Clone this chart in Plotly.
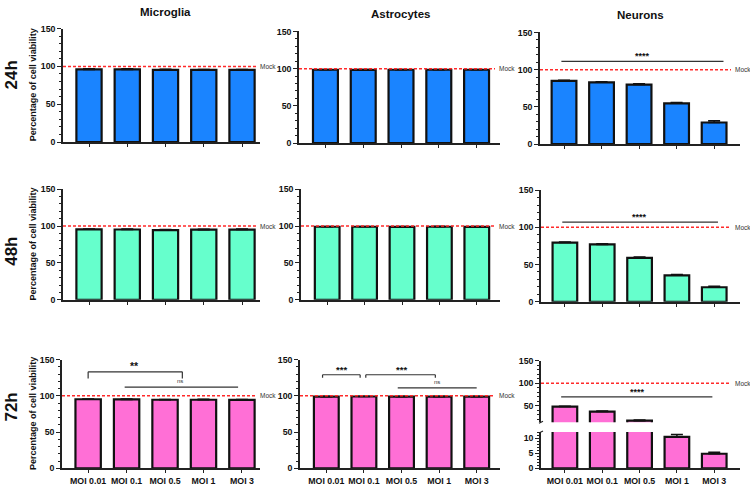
import plotly.graph_objects as go

W, H = 750, 486
cats = ["MOI 0.01", "MOI 0.1", "MOI 0.5", "MOI 1", "MOI 3"]
cols = ["Microglia", "Astrocytes", "Neurons"]
rows = ["24h", "48h", "72h"]
row_colors = ["#1a84ff", "#66ffcc", "#ff6fd6"]

# values [row][col]
micro_24 = [96.0, 96.0, 95.5, 95.5, 95.3]
astro_24 = [98.5, 98.3, 98.5, 98.5, 98.5]
neuro_24 = [84.8, 83.0, 80.0, 54.8, 29.0]
micro_48 = [95.5, 95.3, 94.5, 95.0, 95.2]
astro_48 = [99.0, 99.0, 98.8, 99.0, 98.8]
neuro_48 = [79.5, 77.0, 59.0, 35.5, 19.5]
micro_72 = [95.2, 95.0, 94.5, 94.5, 94.3]
astro_72 = [98.8, 99.0, 98.8, 98.8, 98.8]
neuro_72 = [48.5, 37.5, 17.5, 10.4, 4.8]

err_micro_24 = [0.8, 0.8, 0.6, 0.5, 0.5]
err_astro_24 = [0.5, 0.5, 0.5, 0.5, 0.5]
err_neuro_24 = [1.0, 0.8, 1.0, 1.2, 2.5]
err_micro_48 = [0.6, 0.8, 0.8, 0.6, 0.6]
err_astro_48 = [0.5, 0.5, 0.5, 0.6, 0.5]
err_neuro_48 = [0.8, 0.8, 1.2, 1.0, 1.2]
err_micro_72 = [0.5, 0.5, 0.5, 0.6, 0.5]
err_astro_72 = [0.5, 0.5, 0.5, 0.5, 0.5]
err_neuro_72 = [1.0, 1.0, 1.2, 0.8, 0.5]

values = [[micro_24, astro_24, neuro_24],
          [micro_48, astro_48, neuro_48],
          [micro_72, astro_72, neuro_72]]
errors = [[err_micro_24, err_astro_24, err_neuro_24],
          [err_micro_48, err_astro_48, err_neuro_48],
          [err_micro_72, err_astro_72, err_neuro_72]]

# panel pixel boxes (x0, x1, ytop, ybottom)
boxes = [[(63, 260, 24, 140), (299, 500, 27, 141), (540, 740, 28, 142)],
         [(63, 260, 188, 301), (301, 500, 188, 301), (541, 740, 189, 303)],
         [(62, 260, 362, 473), (300, 500, 362, 473), (541, 740, 363, 426)]]
xranges = [[-0.68, 4.47], [-0.70, 4.62], [-0.64, 4.69]]
mock_line_end = [257, 495, 731]
mock_text_x = [258, 497, 733]
lower_box = (541, 740, 436, 473)
upper_range = [14, 150]
lower_range = [0, 12]

FONT = "Liberation Sans, Arial, sans-serif"

def dom_x(a, b):
    return [a / W, b / W]

def dom_y(top, bot):
    return [1 - bot / H, 1 - top / H]

fig = go.Figure()
layout = {}
shapes = []
annotations = []

axis_common = dict(showline=True, linecolor="#222", linewidth=1.5, ticks="outside",
                   tickcolor="#222", tickwidth=1.2, showgrid=False, zeroline=False,
                   tickfont=dict(family=FONT, size=8.8, color="#111", weight="bold"))

n = 0
for r in range(3):
    for c in range(3):
        n += 1
        x0, x1, yt, yb = boxes[r][c]
        xa = "x" if n == 1 else f"x{n}"
        ya = "y" if n == 1 else f"y{n}"
        broken = (r == 2 and c == 2)
        vals = values[r][c]
        errs = errors[r][c]
        if broken:
            # upper segment of broken axis shows only bars reaching into its range
            vals = [v if v > upper_range[0] else None for v in vals]
        fig.add_trace(go.Bar(x=list(range(5)), y=vals, xaxis=xa, yaxis=ya, width=0.66,
                             marker=dict(color=row_colors[r], line=dict(color="#111", width=2.2)),
                             error_y=dict(type="data", array=errs, arrayminus=[0] * 5, symmetric=False,
                                          color="#111", thickness=1.5, width=6),
                             showlegend=False, hoverinfo="skip"))
        layout["xaxis" if n == 1 else f"xaxis{n}"] = dict(
            axis_common, domain=dom_x(x0, x1), anchor=ya, range=xranges[c],
            tickvals=list(range(5)),
            ticktext=cats if (r == 2 and not broken) else [""] * 5,
            ticklen=3, showticklabels=(r == 2 and not broken),
            showline=not broken, ticks="" if broken else "outside")
        if broken:
            layout[f"yaxis{n}"] = dict(axis_common, domain=dom_y(yt, yb), anchor=xa,
                                       range=upper_range, tickvals=[50, 100, 150], ticklen=4,
                                       minor=dict(ticks="outside", dtick=10, ticklen=2, tickcolor="#222"))
        else:
            layout["yaxis" if n == 1 else f"yaxis{n}"] = dict(
                axis_common, domain=dom_y(yt, yb), anchor=xa, range=[0, 150],
                tickvals=[0, 50, 100, 150], ticklen=4,
                minor=dict(ticks="outside", dtick=10, ticklen=2, tickcolor="#222"))
        # Mock line
        shapes.append(dict(type="line", xref="paper", yref=ya, x0=x0 / W, x1=mock_line_end[c] / W,
                           y0=100, y1=100,
                           line=dict(color="#ff2a2a", width=1.5, dash="3px,2px")))
        annotations.append(dict(x=mock_text_x[c] / W, y=100, xref="paper", yref=ya, text="Mock",
                                showarrow=False, xanchor="left", yanchor="middle",
                                font=dict(family=FONT, size=6.5, color="#333")))

# lower part of broken axis panel (n=10)
lx0, lx1, lyt, lyb = lower_box
fig.add_trace(go.Bar(x=list(range(5)), y=neuro_72, xaxis="x10", yaxis="y10", width=0.66,
                     marker=dict(color=row_colors[2], line=dict(color="#111", width=2.2)),
                     error_y=dict(type="data", array=err_neuro_72, arrayminus=[0] * 5, symmetric=False,
                                  color="#111", thickness=1.5, width=6),
                     showlegend=False, hoverinfo="skip"))
layout["xaxis10"] = dict(axis_common, domain=dom_x(lx0, lx1), anchor="y10", range=xranges[2],
                         tickvals=list(range(5)), ticktext=cats, ticklen=3)
layout["yaxis10"] = dict(axis_common, domain=dom_y(lyt, lyb), anchor="x10", range=lower_range,
                         tickvals=[0, 5, 10], ticklen=4,
                         minor=dict(ticks="outside", dtick=1, ticklen=2, tickcolor="#222"))

# significance marks
def hline(xa, ya, xs, xe, y, legs=None):
    shapes.append(dict(type="line", xref=xa, yref=ya, x0=xs, x1=xe, y0=y, y1=y,
                       line=dict(color="#333", width=1.2)))
    if legs is not None:
        for xx in (xs, xe):
            shapes.append(dict(type="line", xref=xa, yref=ya, x0=xx, x1=xx, y0=y, y1=legs,
                               line=dict(color="#333", width=1.2)))

def label(xa, ya, x, y, t, size=9):
    annotations.append(dict(x=x, y=y, xref=xa, yref=ya, text=t, showarrow=False,
                            xanchor="center", yanchor="bottom",
                            font=dict(family=FONT, size=size, color="#111", weight="bold")))

# Neurons 24h
hline("x3", "y3", -0.07, 4.25, 111)
label("x3", "y3", 2.1, 109, "****")
# Neurons 48h
hline("x6", "y6", -0.07, 4.1, 107)
label("x6", "y6", 2.0, 105, "****")
# Neurons 72h (upper axis)
hline("x9", "y9", -0.1, 3.95, 70)
label("x9", "y9", 1.95, 66, "****")
# Microglia 72h
hline("x7", "y7", 0.0, 2.45, 133, legs=124)
label("x7", "y7", 1.2, 130, "**", size=10.5)
hline("x7", "y7", 0.95, 3.9, 112)
annotations.append(dict(x=2.4, y=113, xref="x7", yref="y7", text="ns", showarrow=False,
                        xanchor="center", yanchor="bottom", font=dict(family=FONT, size=6, color="#333")))
# Astrocytes 72h
hline("x8", "y8", -0.1, 0.9, 129, legs=125)
label("x8", "y8", 0.4, 126, "***", size=9.5)
hline("x8", "y8", 1.05, 2.9, 129, legs=125)
label("x8", "y8", 2.0, 126, "***", size=9.5)
hline("x8", "y8", 1.9, 4.0, 111)
annotations.append(dict(x=2.95, y=112, xref="x8", yref="y8", text="ns", showarrow=False,
                        xanchor="center", yanchor="bottom", font=dict(family=FONT, size=6, color="#333")))

# column titles
for cx, cy, t in [(165, 7, "Microglia"), (400, 9, "Astrocytes"), (640, 10, "Neurons")]:
    annotations.append(dict(x=cx / W, y=1 - cy / H, xref="paper", yref="paper", text=t,
                            xanchor="center", yanchor="middle",
                            showarrow=False, font=dict(family=FONT, size=11.5, color="#111", weight="bold")))
# row labels
for ry, t in [(72, "24h"), (252, "48h"), (411, "72h")]:
    annotations.append(dict(x=12 / W, y=1 - ry / H, xref="paper", yref="paper", text=t,
                            textangle=-90, showarrow=False, xanchor="center", yanchor="middle",
                            font=dict(family=FONT, size=17, color="#111", weight="bold")))
# y axis titles
for (yt, yb) in [(24, 140), (188, 301), (362, 473)]:
    annotations.append(dict(x=33 / W, y=1 - (yt + yb) / 2 / H, xref="paper", yref="paper",
                            text="Percentage of cell viability", textangle=-90, showarrow=False,
                            xanchor="center", yanchor="middle",
                            font=dict(family=FONT, size=9, color="#111", weight="bold")))

# break marks on broken axis
for yy in (426, 436):
    shapes.append(dict(type="line", xref="paper", yref="paper", x0=(lx0 - 2) / W, x1=(lx0 + 2) / W,
                       y0=1 - (yy + 1) / H, y1=1 - (yy - 1) / H, line=dict(color="#222", width=1.2)))

fig.update_layout(width=W, height=H, margin=dict(l=0, r=0, t=0, b=0),
                  paper_bgcolor="white", plot_bgcolor="white",
                  font=dict(family=FONT), bargap=0.34,
                  shapes=shapes, annotations=annotations, **layout)

fig.write_html("out.html")
